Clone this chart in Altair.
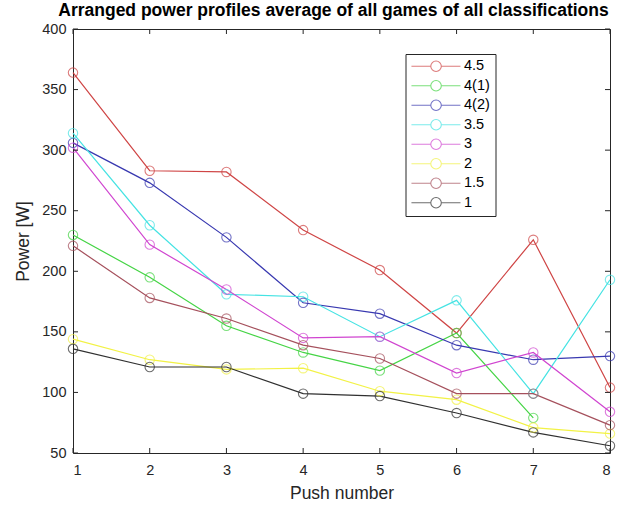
import altair as alt
import pandas as pd

# Push index and mean power (W) per classification
pushes = [1, 2, 3, 4, 5, 6, 7, 8]
p_4_5 = [364, 283, 282, 234, 201, 149, 226, 104]
p_4_1 = [230, 195, 155, 133, 118, 149, 79]
p_4_2 = [306, 273, 228, 174, 165, 139, 127, 130]
p_3_5 = [314, 238, 181, 179, 146, 176, 99, 193]
p_3 = [302, 222, 185, 145, 146, 116, 133, 84]
p_2 = [144, 127, 119, 120, 101, 94, 71, 66]
p_1_5 = [221, 178, 161, 139, 128, 99, 99, 73]
p_1 = [136, 121, 121, 99, 97, 83, 67, 56]

classes = ["4.5", "4(1)", "4(2)", "3.5", "3", "2", "1.5", "1"]
series = [p_4_5, p_4_1, p_4_2, p_3_5, p_3, p_2, p_1_5, p_1]
colors = ["#cf4545", "#45d445", "#3838b0", "#45e3e3", "#d045d0", "#f2f245", "#a5505c", "#303030"]

x_ticks = [1, 2, 3, 4, 5, 6, 7, 8]
y_ticks = [50, 100, 150, 200, 250, 300, 350, 400]

rows = []
for cls, vals in zip(classes, series):
    for i, v in enumerate(vals):
        rows.append({"push": pushes[i], "power": v, "cls": cls})
df = pd.DataFrame(rows)

W, H = 537, 424
FONT = "Liberation Sans"
AX_COL = "#262626"

xs = alt.Scale(domain=[1, 8], nice=False, zero=False)
ys = alt.Scale(domain=[50, 400], nice=False, zero=False)

axis_style = dict(
    ticks=False, domain=False, grid=False, format="d",
    labelFont=FONT, labelFontSize=14.5, labelColor=AX_COL,
    titleFont=FONT, titleFontSize=17.5, titleColor=AX_COL, titleFontWeight="normal",
)
x_axis = alt.Axis(title="Push number", values=x_ticks, labelPadding=10, titlePadding=8, **axis_style)
y_axis = alt.Axis(title="Power [W]", values=y_ticks, labelPadding=7, titlePadding=9, **axis_style)

# legend glyph: line segment with an open circle in the middle
glyph = ("M-1.05,0L2.17,0M3.93,0L7.12,0"
         "M3.93,0A0.88,0.88 0 1,1 2.17,0A0.88,0.88 0 1,1 3.93,0")

color = alt.Color(
    "cls:N",
    scale=alt.Scale(domain=classes, range=colors),
    sort=classes,
    legend=alt.Legend(
        title=None,
        orient="none",
        legendX=332.5,
        legendY=25,
        symbolType=glyph,
        symbolSize=144,
        symbolStrokeWidth=1.1,
        symbolFillColor="transparent",
        labelOffset=39,
        labelFontSize=14.5,
        labelFont=FONT,
        labelColor="#000000",
        rowPadding=3.5,
        padding=5,
        strokeColor=AX_COL,
        fillColor="#ffffff",
    ),
)

lines = alt.Chart(df).mark_line(strokeWidth=1.2).encode(
    x=alt.X("push:Q", scale=xs, axis=x_axis),
    y=alt.Y("power:Q", scale=ys, axis=y_axis),
    color=color, detail="cls:N",
)
points = alt.Chart(df).mark_point(shape="circle", filled=False, size=88, strokeWidth=1.1).encode(
    x=alt.X("push:Q", scale=xs, axis=x_axis),
    y=alt.Y("power:Q", scale=ys, axis=y_axis),
    color=color,
)

# inward tick marks on all four sides of the box
xt = pd.DataFrame({"t": x_ticks})
yt = pd.DataFrame({"t": y_ticks})
ticks_bottom = alt.Chart(xt).mark_rule(color=AX_COL, strokeWidth=1).encode(
    x=alt.X("t:Q", scale=xs, axis=x_axis), y=alt.value(H), y2=alt.value(H - 5))
ticks_top = alt.Chart(xt).mark_rule(color=AX_COL, strokeWidth=1).encode(
    x=alt.X("t:Q", scale=xs, axis=x_axis), y=alt.value(0), y2=alt.value(5))
ticks_left = alt.Chart(yt).mark_rule(color=AX_COL, strokeWidth=1).encode(
    y=alt.Y("t:Q", scale=ys, axis=y_axis), x=alt.value(0), x2=alt.value(5))
ticks_right = alt.Chart(yt).mark_rule(color=AX_COL, strokeWidth=1).encode(
    y=alt.Y("t:Q", scale=ys, axis=y_axis), x=alt.value(W), x2=alt.value(W - 5))

chart = alt.layer(
    lines, points, ticks_bottom, ticks_top, ticks_left, ticks_right
).properties(
    width=W,
    height=H,
    autosize=alt.AutoSizeParams(type="none"),
    padding={"left": 73, "top": 29, "right": 34, "bottom": 53},
    background="#ffffff",
    title=alt.TitleParams(
        "Arranged power profiles average of all games of all classifications",
        font=FONT, fontSize=17.5, fontWeight="bold", color="#000000",
        anchor="middle", offset=2, dx=-8,
    ),
).configure_view(
    stroke=AX_COL, strokeWidth=1
)

chart.save("out.html", embed_options={"renderer": "svg", "actions": False})
